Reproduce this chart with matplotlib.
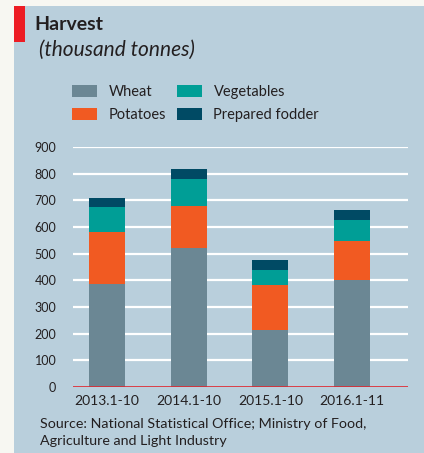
import matplotlib
matplotlib.use("Agg")
import matplotlib.pyplot as plt
from matplotlib.patches import Rectangle
import numpy as np

categories = ["2013.1-10", "2014.1-10", "2015.1-10", "2016.1-11"]
wheat = [385, 520, 213, 400]
potatoes = [198, 159, 168, 148]
vegetables = [92, 101, 59, 80]
fodder = [35, 37, 38, 36]
series_names = ["Wheat", "Potatoes", "Vegetables", "Prepared fodder"]
y_ticks = [0, 100, 200, 300, 400, 500, 600, 700, 800, 900]

colors = ["#6b8794", "#f15a22", "#009e96", "#004a64"]
panel = "#b9cfdc"
FONT = ["Lato", "DejaVu Sans"]
plt.rcParams['font.family'] = FONT

W, H = 424, 453
fig = plt.figure(figsize=(W / 100, H / 100), dpi=100)
fig.patch.set_facecolor("#f7f7f2")

def fx(px):
    return px / W

def fy(py):
    return 1 - py / H

# panel background
fig.patches.append(Rectangle((fx(14), 0), 1 - fx(14), fy(6), transform=fig.transFigure,
                             facecolor=panel, edgecolor="none", zorder=-2))
# red accent
fig.patches.append(Rectangle((fx(14), fy(42)), fx(11), fy(6) - fy(42), transform=fig.transFigure,
                             facecolor="#ed1c24", edgecolor="none", zorder=-1))

fig.text(fx(34), fy(25), "Harvest", fontsize=14, fontweight="bold", color="#231f20",
         va="center", ha="left")
fig.text(fx(39), fy(50), "(thousand tonnes)", fontsize=15, style="italic", color="#231f20",
         va="center", ha="left")

# axes
ax_left, ax_right, ax_top, ax_bottom = 73, 408, 147, 387
ax = fig.add_axes([fx(ax_left), fy(ax_bottom), fx(ax_right - ax_left), fy(ax_top) - fy(ax_bottom)])
ax.set_zorder(2)
ax.set_facecolor("none")
x = np.arange(len(categories))
bottom = np.zeros(len(categories))
for vals, c, name in zip([wheat, potatoes, vegetables, fodder], colors, series_names):
    ax.bar(x, vals, width=0.44, bottom=bottom, color=c, label=name, zorder=3)
    bottom += np.array(vals)

ax.set_ylim(0, 900)
ax.set_xlim(-0.416, 3.686)
ax.set_yticks(y_ticks)
ax.set_yticklabels([str(t) for t in y_ticks], fontsize=9, color="#231f20")
for t in y_ticks[1:]:
    ax.axhline(t, color="white", lw=1.6, zorder=1)
ax.axhline(0, color="#e0262f", lw=1.2, zorder=4)
ax.tick_params(axis="y", length=0, pad=12)
ax.tick_params(axis="x", length=0, pad=6)
ax.set_xticks(x)
ax.set_xticklabels(categories, fontsize=10, color="#231f20")
for s in ax.spines.values():
    s.set_visible(False)

handles, labels = ax.get_legend_handles_labels()
leg = fig.legend(handles, labels, ncol=2,
                 loc="upper left", bbox_to_anchor=(fx(59), fy(72)), frameon=False,
                 fontsize=10.5, handlelength=1.7, handleheight=0.9, columnspacing=0.75,
                 labelspacing=0.6, handletextpad=0.8)
for t in leg.get_texts():
    t.set_color("#231f20")

fig.text(fx(40), fy(424), "Source: National Statistical Office; Ministry of Food,",
         fontsize=10.3, color="#231f20", va="center", ha="left")
fig.text(fx(40), fy(441), "Agriculture and Light Industry",
         fontsize=10.3, color="#231f20", va="center", ha="left")

fig.savefig("out.png", dpi=100, facecolor=fig.get_facecolor())
